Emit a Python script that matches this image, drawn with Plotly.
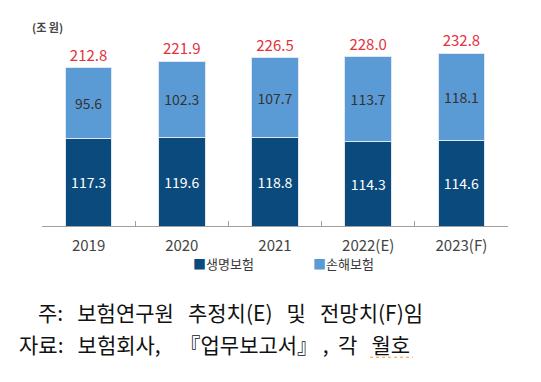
import plotly.graph_objects as go

years = ["2019", "2020", "2021", "2022(E)", "2023(F)"]
life = [117.3, 119.6, 118.8, 114.3, 114.6]
nonlife = [95.6, 102.3, 107.7, 113.7, 118.1]
totals = [212.8, 221.9, 226.5, 228.0, 232.8]
life_name = "생명보험"
nonlife_name = "손해보험"
unit_label = "(조 원)"
S = "\u00a0"
note_line1 = f"주:{S*3}보험연구원{S*3}추정치(E){S*3}및{S*3}전망치(F)임"
note_line2 = f"자료:{S*3}보험회사,{S*4}『업무보고서』{S},{S*2}각{S*3}월호"

FONT = "Noto Sans CJK KR"
DARK = "#0b4a7c"
LIGHT = "#5b9bd5"

fig = go.Figure()
fig.add_trace(go.Bar(
    x=years, y=life, name=life_name, showlegend=False,
    marker=dict(color=DARK, line=dict(color="#dfe8f2", width=1)),
    text=[f"{v:.1f}" for v in life], textposition="inside",
    insidetextanchor="middle", constraintext="none", textangle=0,
    textfont=dict(color="white", size=14, family=FONT),
    hoverinfo="skip",
))
fig.add_trace(go.Bar(
    x=years, y=nonlife, name=nonlife_name, showlegend=False,
    marker=dict(color=LIGHT, line=dict(color="#dfe8f2", width=1)),
    text=[f"{v:.1f}" for v in nonlife], textposition="inside",
    insidetextanchor="middle", constraintext="none", textangle=0,
    textfont=dict(color="#333333", size=14, family=FONT),
    hoverinfo="skip",
))
fig.add_trace(go.Scatter(
    x=years, y=totals, mode="markers+text", text=[f"{t:.1f}" for t in totals],
    marker=dict(size=4, opacity=0),
    textposition="top center", showlegend=False, cliponaxis=False,
    hoverinfo="skip",
    textfont=dict(color="#e3323b", size=15, family=FONT),
))

# unit label
fig.add_annotation(xref="paper", yref="paper", x=-0.026, y=1.031,
                   xanchor="left", yanchor="middle", text=f"<b>{unit_label}</b>",
                   showarrow=False, font=dict(size=11, color="#444444", family=FONT))

# legend (square + name)
for name, color, lx in [(life_name, DARK, 0.320), (nonlife_name, LIGHT, 0.578)]:
    fig.add_annotation(
        xref="paper", yref="paper", x=lx, y=-0.195, xanchor="left", yanchor="middle",
        text=f"<span style='color:{color};font-size:13px'>■</span>{name}",
        showarrow=False, font=dict(size=13, color="#3a3a3a", family=FONT))

# footnotes
fig.add_annotation(xref="paper", yref="paper", x=-0.013, y=-0.446,
                   xanchor="left", yanchor="middle", text=note_line1,
                   showarrow=False, font=dict(size=21, color="#111111", family=FONT))
fig.add_annotation(xref="paper", yref="paper", x=-0.054, y=-0.611,
                   xanchor="left", yanchor="middle", text=note_line2,
                   showarrow=False, font=dict(size=21, color="#111111", family=FONT))
fig.add_shape(type="line", xref="paper", yref="paper",
              x0=0.704, x1=0.796, y0=-0.680, y1=-0.680,
              line=dict(color="#e69a3c", width=1, dash="dot"))

fig.update_layout(
    width=533, height=374,
    margin=dict(l=34, r=33, t=25, b=156),
    barmode="stack", bargap=0.5,
    plot_bgcolor="white", paper_bgcolor="white",
    showlegend=False,
    font=dict(family=FONT),
)
fig.update_xaxes(
    type="category",
    showline=True, linecolor="#a0a0a0", linewidth=1,
    ticks="inside", tickson="boundaries", ticklen=5, tickcolor="#a0a0a0",
    tickfont=dict(size=15, color="#444444", family=FONT),
    ticklabelstandoff=6,
    showgrid=False,
)
fig.update_yaxes(range=[0, 260], visible=False, showgrid=False)

fig.write_html("out.html")
